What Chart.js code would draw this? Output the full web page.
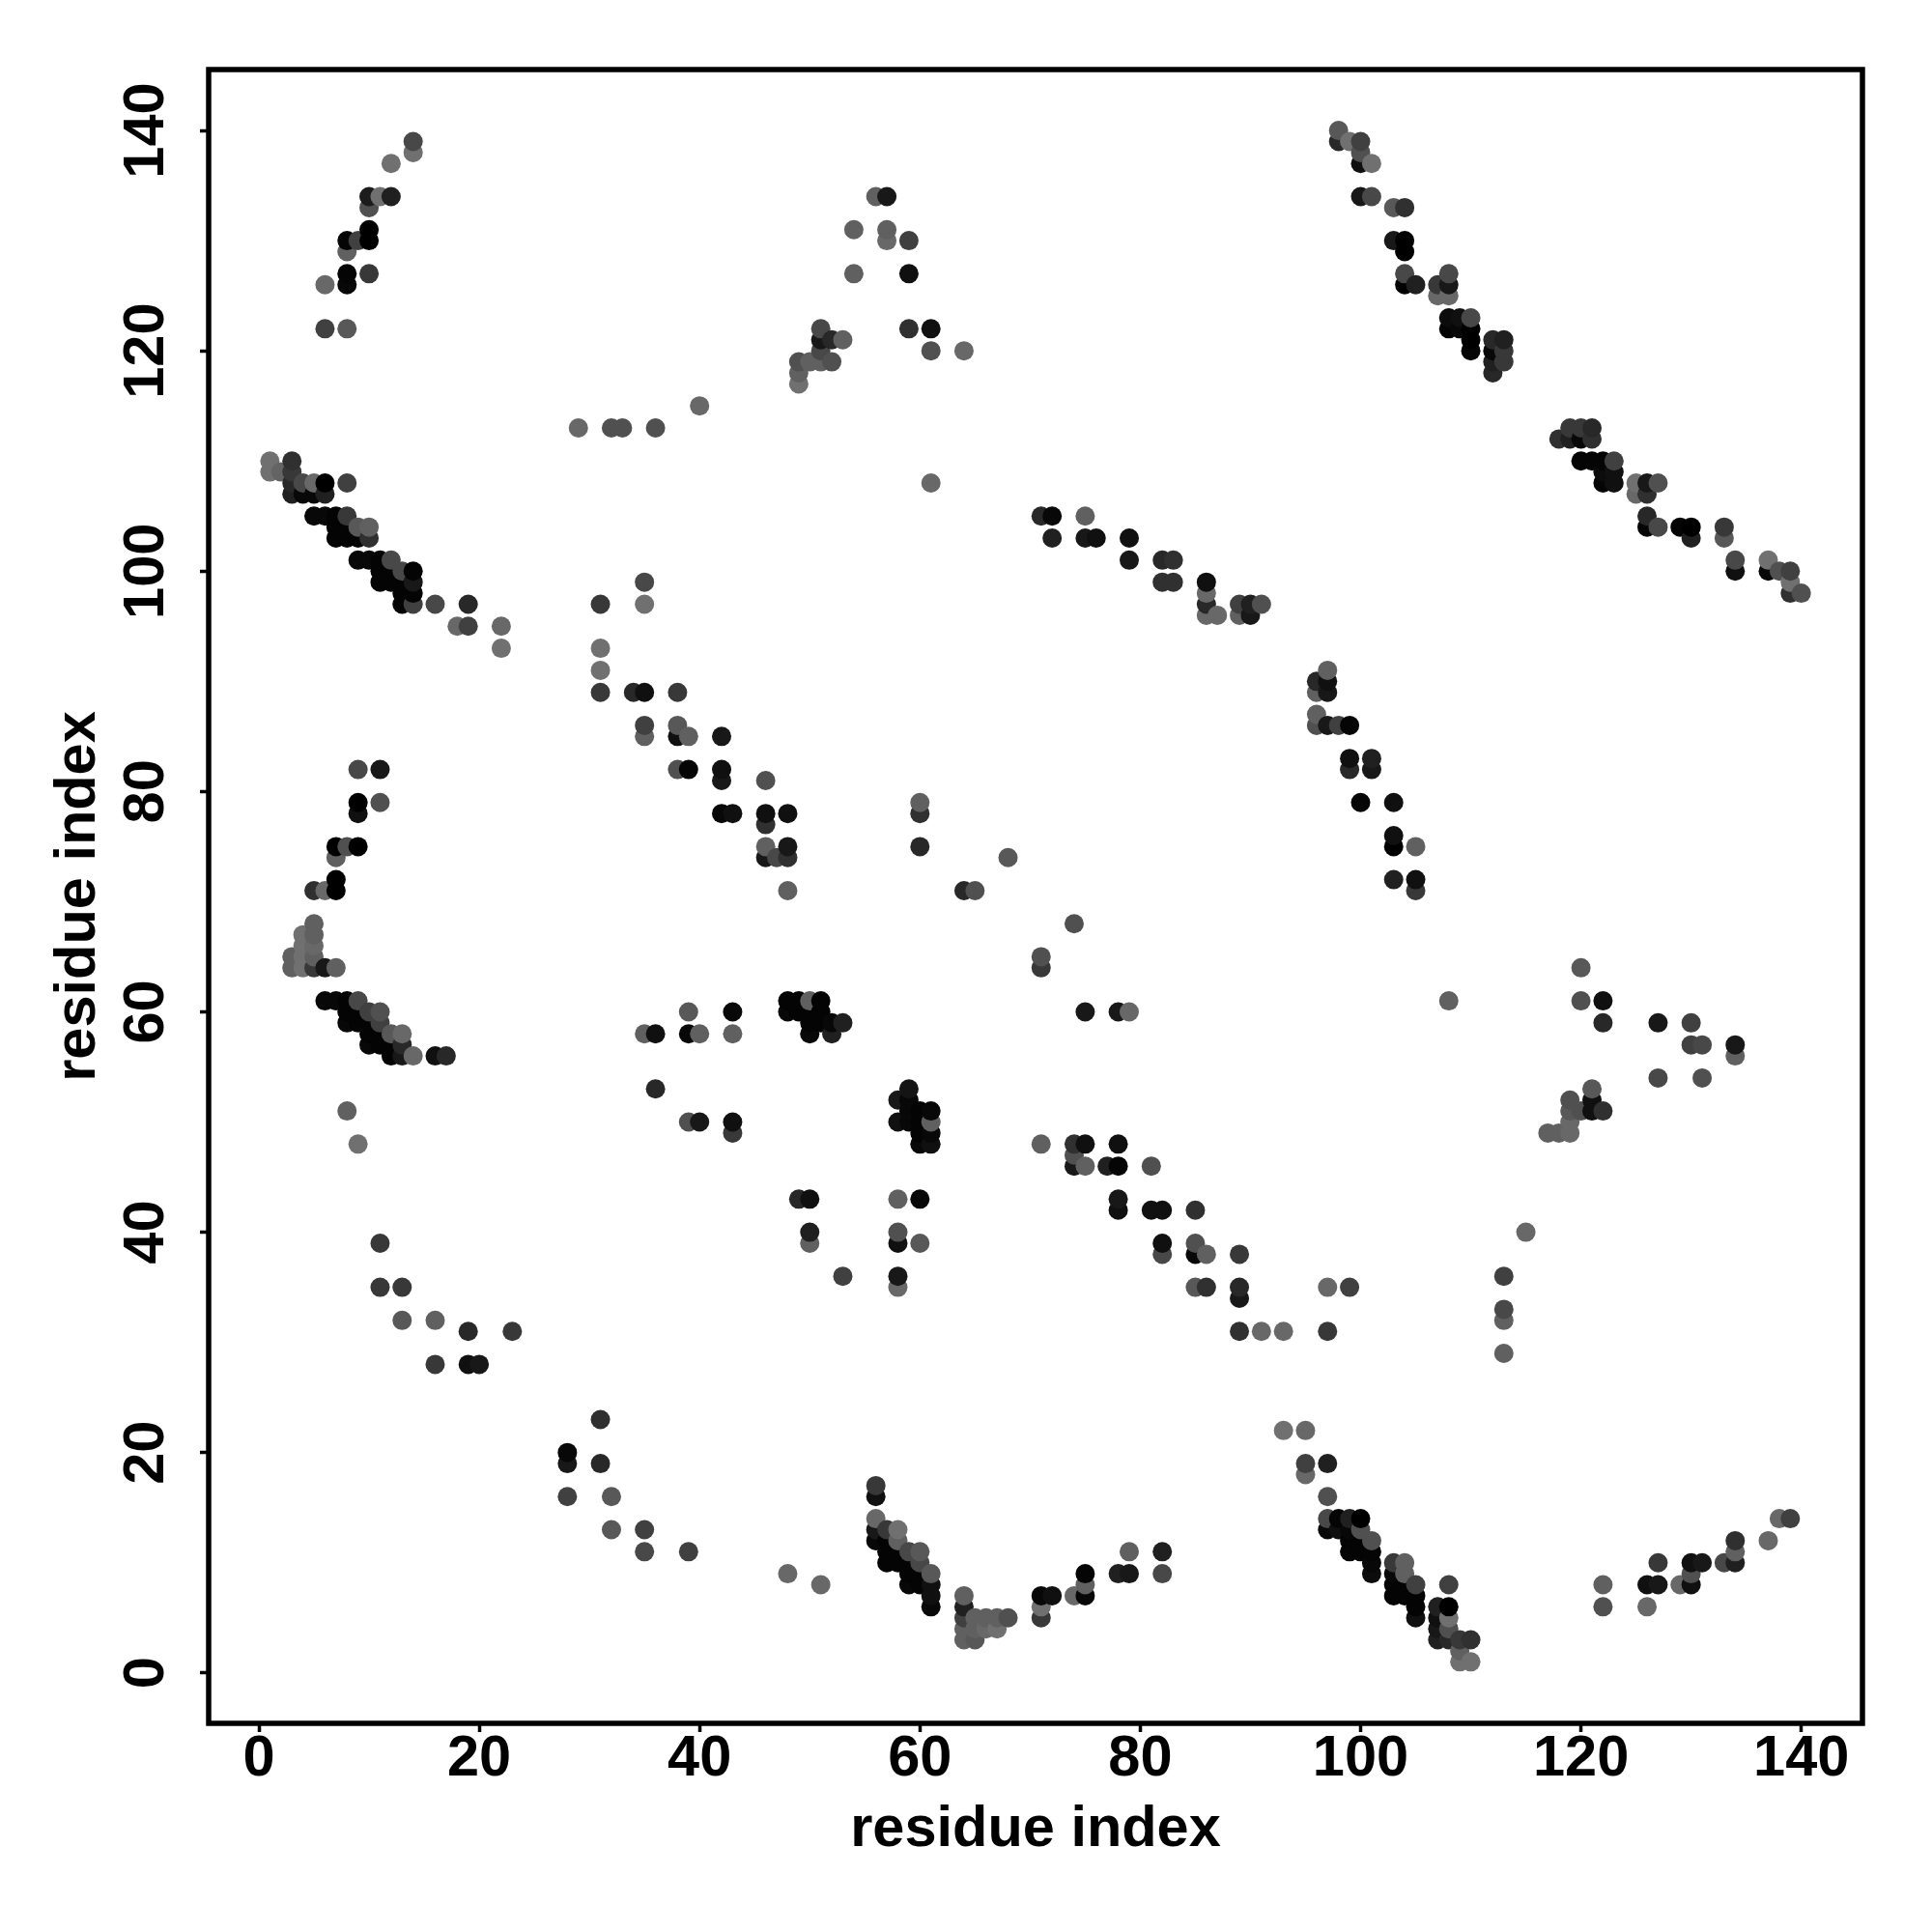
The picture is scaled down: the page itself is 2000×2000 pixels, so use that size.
<!DOCTYPE html>
<html>
<head>
<meta charset="utf-8">
<title>residue contacts</title>
<script src="https://cdn.jsdelivr.net/npm/chart.js@4/dist/chart.umd.min.js"></script>
<style>
    html, body { margin: 0; padding: 0; background: #fff; }
    #wrap { width: 2000px; height: 2000px; }
</style>
</head>
<body>
<div id="wrap"><canvas id="contactChart" width="2000" height="2000"></canvas></div>
<script>
// every contact is [residue x, residue y, grey level]
const tickValues = [0, 20, 40, 60, 80, 100, 120, 140];
const axisLabel = "residue index";

const arcTopLeft = [
    [14,139,72],[14,138,112],[12,137,112],[10,134,28],[11,134,112],[12,134,32],[10,133,80],[10,131,0],
    [8,130,5],[9,130,64],[10,130,0],[8,129,96],[8,127,5],[10,127,56],[8,126,8],[6,126,104],[6,122,64],[8,122,88]
];
const diagUpperLeft = [
    [1,110,112],[3,110,48],[1,109,112],[2,109,100],[3,109,56],[3,108,40],[4,108,72],[5,108,104],[6,108,0],[8,108,64],
    [3,107,32],[4,107,8],[5,107,8],[6,107,32],[5,105,8],[6,105,8],[7,105,4],[8,105,56],[7,104,4],[8,104,4],[9,104,88],[10,104,96],
    [7,103,4],[8,103,4],[9,103,4],[10,103,48],[9,101,8],[10,101,8],[11,101,4],[12,101,72],[11,100,4],[12,100,4],[13,100,72],[14,100,4],
    [11,99,4],[12,99,4],[13,99,4],[14,99,24],[13,98,4],[14,98,4],[13,97,4],[14,97,64],[16,97,72],[19,97,40],[18,95,104],[19,95,64],[22,95,104],[22,93,112]
];
const rowMiddleTop = [
    [31,97,56],[35,99,72],[35,97,112],[31,93,112],[31,91,112],[29,113,104],[32,113,80],[33,113,80],[36,113,80],[40,115,104],[61,108,104]
];
const peakTop = [
    [64,120,104],[61,120,80],[61,122,16],[59,122,48],[59,127,16],[59,130,64],[57,134,24],[56,134,96],[54,131,96],[57,131,96],[57,130,104],[54,127,96],
    [51,122,72],[51,121,24],[52,121,40],[53,121,96],[51,120,72],[50,119,96],[51,119,96],[52,119,80],[49,119,80],[49,118,96],[49,117,112]
];
const diagUpperRight = [
    [98,140,88],[98,139,40],[99,139,112],[100,139,64],[100,138,80],[100,137,16],[101,137,112],[100,134,24],[101,134,72],[103,133,88],[104,133,48],
    [103,130,24],[104,130,0],[104,129,0],[104,127,72],[104,126,0],[105,126,32],[107,126,56],[108,127,72],[108,126,24],[107,125,104],[108,125,104],
    [108,123,12],[109,123,16],[110,123,72],[108,122,5],[109,122,8],[110,122,0],[110,121,0],[110,120,5],
    [112,121,40],[113,121,32],[112,120,8],[113,120,56],[112,119,32],[113,119,56],[112,118,40],
    [119,113,56],[120,113,56],[121,113,40],[118,112,48],[119,112,32],[120,112,8],[121,112,48],
    [120,110,5],[121,110,5],[122,110,5],[123,110,64],[122,109,12],[123,109,16],[122,108,5],[123,108,16],
    [125,108,112],[126,108,24],[127,108,80],[125,107,104],[126,107,48],[126,105,40],[126,104,5],[127,104,72],
    [129,104,5],[130,104,0],[130,103,32],[133,104,56],[133,103,88],[134,101,72],[134,100,16],
    [137,101,112],[137,100,8],[138,100,80],[139,100,64],[139,99,112],[139,98,48],[140,98,80]
];
const rowUpperCenter = [
    [71,105,40],[72,105,8],[72,103,32],[75,105,96],[75,103,24],[76,103,16],[79,103,16],[79,101,24],[82,101,40],[83,101,48],[82,99,48],[83,99,48],
    [86,99,16],[86,98,104],[86,97,40],[86,96,104],[87,96,104],[89,97,64],[90,97,32],[91,97,80],[89,96,96],[90,96,24]
];
const diagSecond = [
    [31,89,56],[34,89,40],[35,89,16],[38,89,56],[35,86,64],[38,86,88],[35,85,96],[38,85,16],[39,85,96],[42,85,24],[38,82,80],[39,82,5],[42,82,16],[42,81,24],
    [46,81,80],[42,78,8],[43,78,16],[46,78,16],[48,78,16],[46,77,48],[46,75,96],[48,75,24],[46,74,24],[47,74,72],[48,74,48],[48,71,96]
];
const diagThird = [
    [96,90,40],[97,90,16],[97,91,96],[96,89,96],[97,89,24],[96,87,96],[96,86,80],[97,86,24],[98,86,64],[99,86,5],[99,83,16],[101,83,32],[99,82,40],[101,82,24],
    [100,79,5],[103,79,16],[103,76,16],[103,75,0],[105,75,96],[103,72,32],[105,72,16],[105,71,56]
];
const arcLeft = [
    [9,82,72],[11,82,24],[9,79,0],[9,78,16],[11,79,80],[7,75,0],[8,75,80],[9,75,0],[7,74,96],[7,72,0],[7,71,0],[5,71,48],[6,71,104],
    [5,68,96],[4,67,112],[5,67,96],[4,66,112],[5,66,104],[3,65,96],[4,65,112],[5,65,96],[3,64,96],[4,64,112],[5,64,56],[6,64,24],[7,64,96]
];
const diagLeft = [
    [6,61,8],[7,61,8],[8,61,4],[9,61,72],[8,60,4],[9,60,4],[10,60,64],[11,60,80],[8,59,8],[9,59,4],[10,59,4],[11,59,64],
    [10,58,4],[11,58,4],[12,58,88],[13,58,104],[10,57,8],[11,57,4],[12,57,4],[13,57,40],[12,56,4],[13,56,24],[14,56,104],[16,56,16],[17,56,40],
    [8,51,96],[9,48,112],[11,39,56],[11,35,56],[13,35,56],[13,32,88],[16,32,96],[16,28,56],[19,31,40],[23,31,56],[19,28,16],[20,28,24]
];
const blockCenter = [
    [35,58,96],[36,58,16],[39,60,88],[43,60,8],[39,58,8],[40,58,96],[43,58,96],[36,53,40],[39,50,80],[40,50,24],[43,50,16],[43,49,56],
    [48,61,4],[49,61,4],[50,61,96],[51,61,4],[48,60,8],[49,60,4],[50,60,4],[51,60,4],[50,59,4],[51,59,4],[52,59,8],[53,59,32],[50,58,8],[52,58,32],
    [59,53,20],[58,52,24],[59,52,8],[59,51,8],[60,51,4],[61,51,8],[58,50,16],[59,50,8],[60,50,4],[61,50,96],[60,49,4],[61,49,8],[60,48,8],[61,48,16],
    [49,43,40],[50,43,16],[50,40,32],[50,39,96],[53,36,64],[58,43,96],[60,43,8],[58,40,80],[58,39,16],[60,39,88],[58,36,24],[58,35,104]
];
const scatterCenter = [
    [60,79,96],[60,78,48],[60,75,40],[64,71,40],[65,71,80],[68,74,88],[74,68,80],[71,65,80],[71,64,56],[75,60,24],[78,60,24],[79,60,104],[108,61,96]
];
const blockRight = [
    [120,64,88],[120,61,80],[122,61,16],[122,59,40],[127,59,24],[130,59,64],[130,57,64],[131,57,72],[134,57,24],[134,56,96],[127,54,72],[131,54,80],
    [117,49,96],[118,49,96],[119,49,104],[119,52,80],[119,51,88],[120,51,80],[119,50,104],[121,53,88],[121,52,16],[121,51,16],[122,51,48]
];
const diagLower = [
    [71,48,96],[74,48,48],[75,48,16],[78,48,16],[74,47,80],[74,46,24],[75,46,96],[77,46,32],[78,46,5],[81,46,80],[78,43,24],[78,42,16],[81,42,16],[82,42,16],
    [85,42,48],[82,39,16],[82,38,72],[85,39,80],[85,38,8],[86,38,96],[89,38,56],[85,35,88],[86,35,48],[89,35,40],[89,34,24],[89,31,48],[91,31,104],[93,31,104],
    [97,35,104],[99,35,64],[97,31,56],[113,36,64],[113,33,72],[113,32,96],[113,29,96],[115,40,104]
];
const rowBottomLeft = [
    [28,20,8],[28,19,24],[31,23,48],[31,19,40],[28,16,64],[32,16,88],[32,13,88],[35,13,64],[35,11,72],[39,11,64],[48,9,104],[51,8,104]
];
const vBottomCenter = [
    [56,17,56],[56,16,16],[56,14,104],[56,13,24],[57,13,56],[58,13,112],[56,12,8],[57,12,4],[58,12,96],[57,11,4],[58,11,4],[59,11,72],[60,11,88],
    [57,10,4],[58,10,4],[59,10,4],[60,10,72],[59,9,4],[60,9,4],[61,9,88],[59,8,8],[60,8,4],[61,8,16],[61,7,16],[61,6,8],
    [64,7,96],[64,6,32],[64,5,64],[64,4,96],[64,3,96],[65,5,96],[65,4,96],[65,3,88],[66,5,96],[66,4,104],[67,5,96],[67,4,112],[68,5,80],
    [71,7,8],[71,6,112],[71,5,56],[72,7,16],[74,7,104],[75,9,5],[75,8,96],[75,7,8],[78,9,32],[79,9,24],[79,11,96],[82,11,32],[82,9,72]
];
const diagBottomRight = [
    [93,22,112],[95,22,104],[95,19,64],[97,19,32],[95,18,104],[97,16,80],[97,14,72],[98,14,5],[99,14,32],[100,14,0],[97,13,8],[98,13,16],[99,13,8],[100,13,80],
    [99,12,4],[100,12,4],[101,12,80],[99,11,5],[100,11,4],[101,11,5],[101,10,8],[101,9,12],
    [103,10,56],[104,10,96],[103,9,8],[104,9,96],[103,8,4],[104,8,4],[105,8,64],[103,7,4],[104,7,4],[105,7,4],[105,6,4],[105,5,16],
    [108,8,64],[107,6,32],[108,6,0],[107,5,16],[108,5,112],[107,4,24],[108,4,80],[107,3,32],[108,3,40],[109,3,56],[110,3,48],[109,2,96],[109,1,112],[110,1,112]
];
const tailBottomRight = [
    [122,8,96],[122,6,80],[126,6,104],[126,8,16],[127,8,24],[127,10,56],[129,8,104],[130,8,16],[130,9,80],[130,10,16],[131,10,24],
    [133,10,72],[134,10,32],[134,11,96],[134,12,48],[137,12,104],[138,14,104],[139,14,64]
];

const contacts = [
    ...arcTopLeft, ...diagUpperLeft, ...rowMiddleTop, ...peakTop, ...diagUpperRight, ...rowUpperCenter,
    ...diagSecond, ...diagThird, ...arcLeft, ...diagLeft, ...blockCenter, ...scatterCenter, ...blockRight,
    ...diagLower, ...rowBottomLeft, ...vBottomCenter, ...diagBottomRight, ...tailBottomRight
].sort((a, b) => a[0] - b[0] || a[1] - b[1]);

// frame goes round all four sides, the scales only give one edge each
const framePlugin = {
    id: "frame",
    afterDraw(chart) {
        const { ctx, chartArea: a } = chart;
        ctx.save();
        ctx.strokeStyle = "#000";
        ctx.lineWidth = 5.5;
        ctx.strokeRect(a.left, a.top, a.right - a.left, a.bottom - a.top);
        ctx.restore();
    }
};

const labelFont = { family: "'Liberation Sans'", weight: "bold", size: 59.5 };

function axisOptions(min, max, fitAxis) {
    return {
        type: "linear",
        min: min,
        max: max,
        afterBuildTicks: scale => { scale.ticks = tickValues.map(value => ({ value })); },
        afterFit: fitAxis,
        grid: { drawOnChartArea: false, drawTicks: true, tickLength: 9, tickWidth: 3.5, tickColor: "#000" },
        border: { display: false },
    };
}

const ctx = document.getElementById("contactChart").getContext("2d");
new Chart(ctx, {
    type: "scatter",
    data: {
        datasets: [{
            label: "contacts",
            data: contacts.map(c => ({ x: c[0], y: c[1] })),
            backgroundColor: contacts.map(c => `rgb(${c[2]},${c[2]},${c[2]})`),
            borderWidth: 0,
            pointRadius: 10,
            pointHoverRadius: 10
        }]
    },
    options: {
        responsive: false,
        animation: false,
        layout: { padding: { top: 72, right: 72, left: 0, bottom: 0 } },
        plugins: { legend: { display: false }, tooltip: { enabled: false } },
        scales: {
            x: {
                ...axisOptions(-4.56, 145.55, scale => { scale.height = 216; }),
                ticks: { font: labelFont, color: "#000", padding: -7, maxRotation: 0, minRotation: 0, autoSkip: false },
                title: { display: true, text: axisLabel, font: labelFont, color: "#000", padding: { top: 0, bottom: 70 } }
            },
            y: {
                ...axisOptions(-4.58, 145.53, scale => { scale.width = 216; }),
                ticks: { font: labelFont, color: "#000", padding: 5, minRotation: 90, maxRotation: 90, crossAlign: "center", autoSkip: false },
                title: { display: true, text: axisLabel, font: labelFont, color: "#000", padding: { top: 46, bottom: 0 } }
            }
        }
    },
    plugins: [framePlugin]
});
</script>
</body>
</html>
